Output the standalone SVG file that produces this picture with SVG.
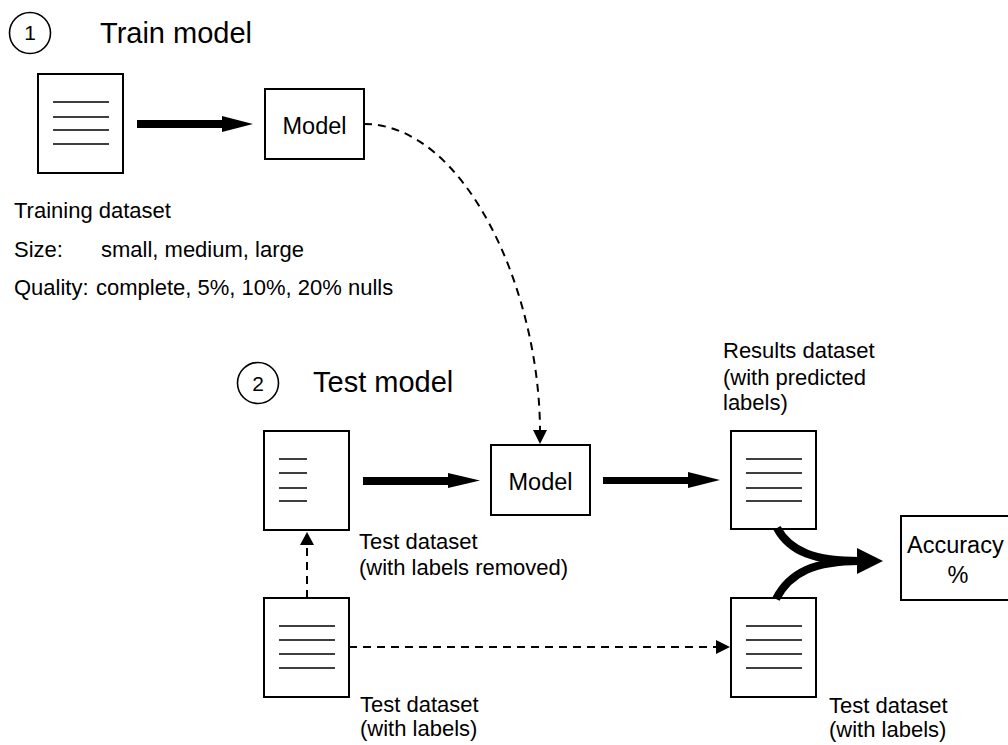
<svg xmlns="http://www.w3.org/2000/svg" width="1008" height="745" viewBox="0 0 1008 745">
<style>
text{font-family:"Liberation Sans",Arial,Helvetica,sans-serif;fill:#000}
.title{font-size:29px}
.num{font-size:21px}
.lbl{font-size:22px}
.mdl{font-size:23.5px}
.box{fill:#fff;stroke:#000;stroke-width:2}
.ln{stroke:#000;stroke-width:1.6}
.thick{fill:none;stroke:#000;stroke-width:8}
.dash{fill:none;stroke:#000;stroke-width:2;stroke-dasharray:8 6}
</style>
<rect width="1008" height="745" fill="#fff"/>
<g id="step1">
<circle cx="30" cy="33" r="20.5" fill="none" stroke="#000" stroke-width="1.6"/>
<text class="num" x="30" y="40" text-anchor="middle">1</text>
<text class="title" x="100" y="43">Train model</text>
</g>
<g id="step2">
<circle cx="258" cy="383" r="20.5" fill="none" stroke="#000" stroke-width="1.6"/>
<text class="num" x="258" y="391" text-anchor="middle">2</text>
<text class="title" x="313" y="392">Test model</text>
</g>
<g id="training-dataset">
<rect class="box" x="38" y="74" width="85" height="99"/>
<path class="ln" d="M53 102H109M53 117H109M53 130H109M53 144H109"/>
<text class="lbl" x="14" y="218">Training dataset</text>
<text class="lbl" x="14" y="257">Size:</text>
<text class="lbl" x="101" y="257">small, medium, large</text>
<text class="lbl" x="14" y="295">Quality:</text>
<text class="lbl" x="96" y="295">complete, 5%, 10%, 20% nulls</text>
</g>
<g id="model1">
<rect class="box" x="265" y="89" width="99" height="70"/>
<text class="mdl" x="314.5" y="134" text-anchor="middle">Model</text>
</g>
<g id="test-dataset-removed">
<rect class="box" x="264" y="431" width="85" height="99"/>
<path class="ln" d="M279 459H307M279 473H307M279 488H307M279 501H307"/>
<text class="lbl" x="359" y="549">Test dataset</text>
<text class="lbl" x="359" y="575">(with labels removed)</text>
</g>
<g id="model2">
<rect class="box" x="491" y="445" width="99" height="70"/>
<text class="mdl" x="540.5" y="490" text-anchor="middle">Model</text>
</g>
<g id="results-dataset">
<rect class="box" x="731" y="431" width="85" height="98"/>
<path class="ln" d="M746 459H802M746 473H802M746 488H802M746 501H802"/>
<text class="lbl" x="723" y="358">Results dataset</text>
<text class="lbl" x="723" y="385">(with predicted</text>
<text class="lbl" x="723" y="410">labels)</text>
</g>
<g id="test-dataset-labels-left">
<rect class="box" x="264" y="598" width="85" height="99"/>
<path class="ln" d="M279 626H335M279 640H335M279 654H335M279 668H335"/>
<text class="lbl" x="360" y="712">Test dataset</text>
<text class="lbl" x="360" y="736">(with labels)</text>
</g>
<g id="test-dataset-labels-right">
<rect class="box" x="731" y="598" width="85" height="99"/>
<path class="ln" d="M746 626H802M746 640H802M746 654H802M746 668H802"/>
<text class="lbl" x="829" y="713">Test dataset</text>
<text class="lbl" x="829" y="737">(with labels)</text>
</g>
<g id="accuracy">
<rect class="box" x="901" y="516" width="120" height="84"/>
<text class="mdl" x="907" y="553">Accuracy</text>
<text class="mdl" x="958" y="583" text-anchor="middle">%</text>
</g>
<g id="connectors">
<path d="M137 120H222V116L253 124L222 132V128H137Z" fill="#000"/>
<path d="M363 477H448V473L480 480.5L448 488V485H363Z" fill="#000"/>
<path d="M603 477H688V472L720 480L688 488V484H603Z" fill="#000"/>
<path class="dash" d="M364 124C465 124 540 290 540 432"/>
<polygon points="533,430 547,430 540,444" fill="#000"/>
<path class="dash" d="M307 598V544"/>
<polygon points="300,545 314,545 307,532" fill="#000"/>
<path class="dash" d="M349 647H718"/>
<polygon points="716,640 716,654 730,647" fill="#000"/>
<path class="thick" d="M777 528C790 552 815 561 860 561"/>
<path class="thick" d="M776 599C790 572 815 561 860 561"/>
<polygon points="857,548 883,561 857,574" fill="#000"/>
</g>
</svg>
